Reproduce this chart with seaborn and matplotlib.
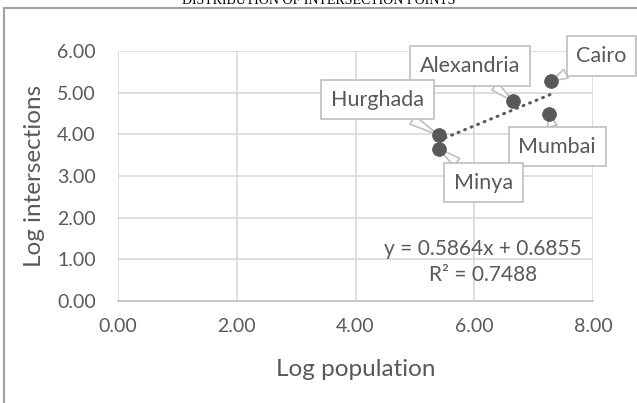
import matplotlib
matplotlib.use("Agg")
import matplotlib.pyplot as plt
import seaborn as sns
import pandas as pd
from matplotlib.lines import Line2D

# ---- data ----
cities = ["Cairo", "Alexandria", "Mumbai", "Hurghada", "Minya"]
log_population = [7.30, 6.65, 7.26, 5.40, 5.40]
log_intersections = [5.28, 4.80, 4.50, 3.98, 3.66]
trend_slope = 0.5864
trend_intercept = 0.6855
r_squared = 0.7488
x_ticks = [0, 2, 4, 6, 8]
y_ticks = [0, 1, 2, 3, 4, 5, 6]
title = "DISTRIBUTION OF INTERSECTION POINTS"
x_title = "Log population"
y_title = "Log intersections"

# label callout offsets (pixels from point to box centre)
label_offsets = {
    "Cairo": (50, 25),
    "Alexandria": (-43, 35),
    "Mumbai": (8, -33),
    "Hurghada": (-61, 35.5),
    "Minya": (45, -34),
}

df = pd.DataFrame({"city": cities, "x": log_population, "y": log_intersections})
xmin, xmax = min(log_population), max(log_population)
trend = pd.DataFrame({"x": [xmin, xmax],
                      "y": [trend_slope * xmin + trend_intercept,
                            trend_slope * xmax + trend_intercept]})

sns.set_theme(style="white")
plt.rcParams["font.family"] = ["Lato", "DejaVu Sans"]
TXT = "#595959"
GRID = "#d9d9d9"

fig = plt.figure(figsize=(6.37, 4.03), dpi=100)
ax = fig.add_axes([118 / 637, 1 - 301 / 403, 475 / 637, 250 / 403])

sns.lineplot(data=trend, x="x", y="y", ax=ax, color=TXT, linewidth=2.2,
             linestyle=(0, (0.3, 2.0)), dash_capstyle="round", zorder=3)
sns.scatterplot(data=df, x="x", y="y", ax=ax, color=TXT, s=100,
                edgecolor=TXT, linewidth=0.5, zorder=6)

ax.set_xlim(0, 8)
ax.set_ylim(0, 6)
ax.set_xticks(x_ticks)
ax.set_yticks(y_ticks)
ax.set_xticklabels([f"{v:.2f}" for v in x_ticks])
ax.set_yticklabels([f"{v:.2f}" for v in y_ticks])
ax.tick_params(axis="both", length=0, labelsize=14, colors=TXT)
ax.tick_params(axis="x", pad=12)
ax.tick_params(axis="y", pad=16)
ax.grid(True, color=GRID, linewidth=1.2)
ax.set_axisbelow(True)
for side in ["top", "right", "left"]:
    ax.spines[side].set_visible(False)
ax.spines["bottom"].set_color("#bfbfbf")
ax.spines["bottom"].set_linewidth(1.2)

ax.set_xlabel(x_title, fontsize=17.5, color=TXT)
ax.set_ylabel(y_title, fontsize=17.5, color=TXT)
ax.xaxis.set_label_coords(0.5, -0.272)
ax.yaxis.set_label_coords(-0.175, 0.5)
ax.xaxis.label.set_va("center")
ax.yaxis.label.set_va("center")

for c, x, y in zip(cities, log_population, log_intersections):
    dx, dy = label_offsets[c]
    ax.annotate(c, xy=(x, y), xytext=(dx, dy), textcoords="offset pixels",
                ha="center", va="center", fontsize=15.5, color=TXT,
                annotation_clip=False, zorder=5,
                bbox=dict(boxstyle="square,pad=0.45", fc="white", ec="#bfbfbf", lw=1.2),
                arrowprops=dict(arrowstyle="wedge,tail_width=0.45,shrink_factor=0.5",
                                fc="white", ec="#bfbfbf", lw=1.2,
                                shrinkA=0, shrinkB=0))

ax.text((483 - 118) / 59.375, (301 - 262) / 41.667,
        f"y = {trend_slope:.4f}x + {trend_intercept:.4f}\nR² = {r_squared:.4f}",
        ha="center", va="center", fontsize=15, color=TXT, linespacing=1.4, zorder=2)

fig.text(0.5, 1 - 4 / 403, title, ha="center", va="baseline",
         fontsize=10, family=["Liberation Serif"], color="black")

fig.add_artist(Line2D([4 / 637, 4 / 637], [0, 1 - 8 / 403], transform=fig.transFigure,
                      color="#a0a0a0", lw=1.5))
fig.add_artist(Line2D([4 / 637, 1], [1 - 8 / 403, 1 - 8 / 403], transform=fig.transFigure,
                      color="#a0a0a0", lw=1.5))

fig.savefig("out.png", dpi=100)
